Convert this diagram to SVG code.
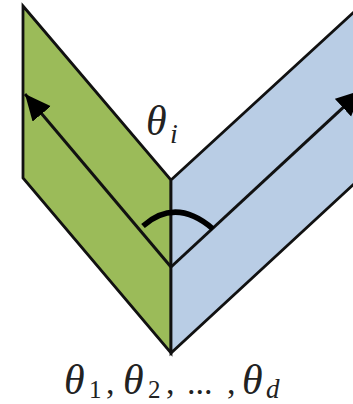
<svg xmlns="http://www.w3.org/2000/svg" width="353" height="404" viewBox="0 0 353 404">
<style>
.p{stroke:#111;stroke-width:2.8;stroke-linejoin:miter}
.l{stroke:#111;stroke-width:3;fill:none}
text{font-family:"Liberation Serif",serif;fill:#222}
.t{font-style:italic;font-size:42px}
.s{font-size:25px}
.i{font-style:italic;font-size:28px}
.d{font-style:italic;font-size:27px}
.c{font-size:34px}
</style>
<defs>
<marker id="a" markerUnits="userSpaceOnUse" markerWidth="30" markerHeight="30" refX="26" refY="12" orient="auto"><path d="M0 0L26 12L0 24Z" fill="#000"/></marker>
</defs>
<rect width="353" height="404" fill="#fff"/>
<g id="green-plane"><path class="p" fill="#9bbb59" d="M23 6L171 180V353L23 178Z"/></g>
<g id="blue-plane"><path class="p" fill="#b9cde5" d="M171 180L355 11V183L171 353Z"/></g>
<g id="connectors">
<path class="l" d="M171 267L25 94" marker-end="url(#a)"/>
<path class="l" d="M171 267L362 90" marker-end="url(#a)"/>
<path d="M143 226Q176 197 213 229" fill="none" stroke="#000" stroke-width="5.5"/>
</g>
<g id="label-theta-i"><text class="t" x="146" y="135">θ</text><text class="i" x="170" y="143">i</text></g>
<g id="label-thetas">
<text class="t" x="64" y="394">θ</text><text class="s" x="89" y="398">1</text><text class="c" x="106" y="394">,</text>
<text class="t" x="123" y="394">θ</text><text class="s" x="148" y="398">2</text><text class="c" x="166" y="394">,</text>
<text class="c" x="187" y="394">...</text><text class="c" x="227" y="394">,</text>
<text class="t" x="242" y="394">θ</text><text class="d" x="266" y="398">d</text>
</g>
</svg>
